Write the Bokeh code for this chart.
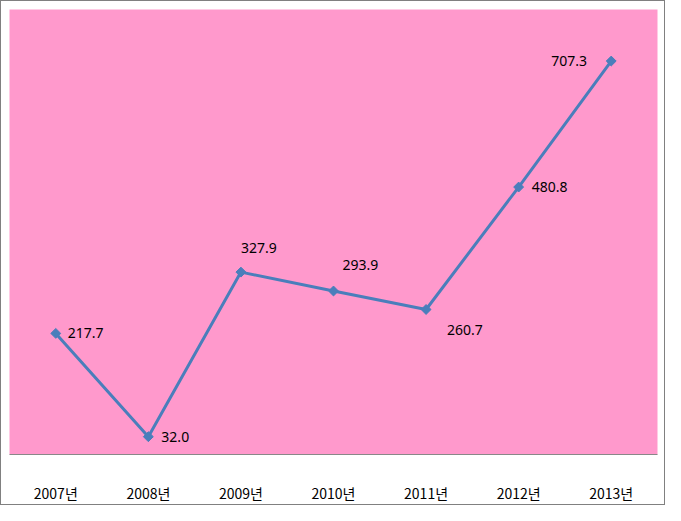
import math
from bokeh.plotting import figure
from bokeh.models import ColumnDataSource, Range1d, FactorRange
from bokeh.core.properties import value
from bokeh.embed import file_html
from bokeh.resources import INLINE

years = ["2007년", "2008년", "2009년", "2010년", "2011년", "2012년", "2013년"]
values = [217.7, 32.0, 327.9, 293.9, 260.7, 480.8, 707.3]
labels = ["217.7", "32.0", "327.9", "293.9", "260.7", "480.8", "707.3"]

# label placement (pixels, styling only)
lab_dx = [12, 13, 0, 9, 21, 13, -60]
lab_dy = [0, 0, -24, -26, 21, 0, 0]

src = ColumnDataSource(dict(x=years, y=values, t=labels, dx=lab_dx, dy=lab_dy))

p = figure(width=665, height=505, x_range=FactorRange(*years, range_padding=0),
           y_range=Range1d(0, 800), output_backend="svg", toolbar_location=None,
           min_border_left=8, min_border_right=9, min_border_top=8, min_border_bottom=52)
p.background_fill_color = "#FF99CC"
p.border_fill_color = "white"
p.outline_line_color = None
p.grid.visible = False
p.yaxis.visible = False
p.xaxis.axis_line_color = "#888888"
p.xaxis.axis_line_width = 1
p.xaxis.major_tick_line_color = None
p.xaxis.minor_tick_line_color = None
p.xaxis.major_label_standoff = 22
p.xaxis.major_label_text_font = "Noto Sans CJK KR"
p.xaxis.major_label_text_font_size = "14px"
p.xaxis.major_label_text_color = "black"
p.styles = {"border": "1px solid #808080", "box-sizing": "border-box"}

p.line("x", "y", source=src, line_color="#4A7EBB", line_width=3)
p.scatter("x", "y", source=src, marker="square", angle=math.pi / 4, size=7,
          fill_color="#4A7EBB", line_color="#4A7EBB")
p.text("x", "y", text="t", source=src, x_offset="dx", y_offset="dy",
       text_align="left", text_baseline="middle", text_font=value("Noto Sans"),
       text_font_size="14px", text_color="black")

open("out.html", "w").write(file_html(p, INLINE))
